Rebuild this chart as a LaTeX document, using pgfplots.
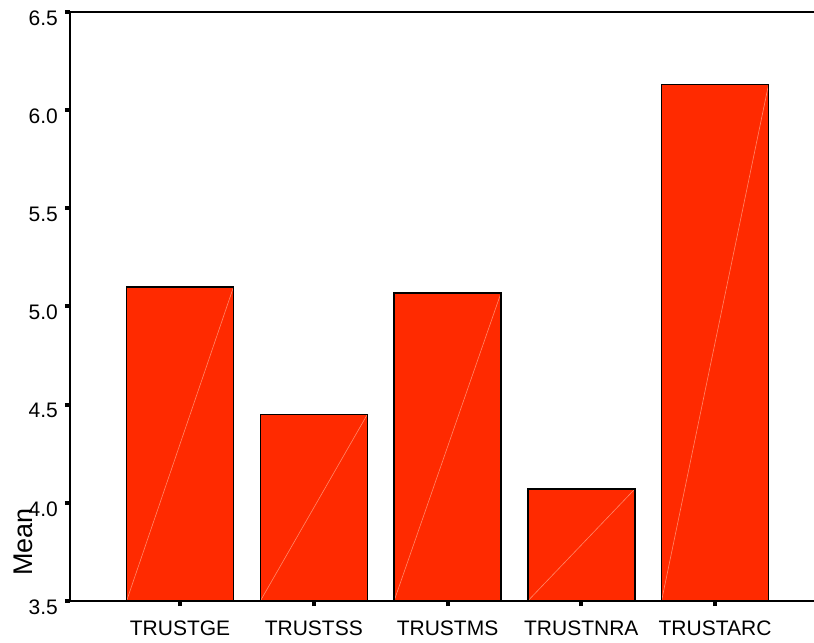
\documentclass[border=0pt]{standalone}
\usepackage{fontspec}
\setmainfont{Liberation Sans}
\usepackage{pgfplots}
\pgfplotsset{compat=1.18}
\definecolor{barred}{RGB}{255,42,0}
\definecolor{streak}{RGB}{255,135,105}

\begin{document}
\fontsize{21bp}{25bp}\selectfont
\begin{tikzpicture}
\begin{axis}[
  scale only axis,
  width=744bp, height=589bp,
  xmin=-0.823, xmax=4.74,
  ymin=3.5, ymax=6.5,
  axis x line*=bottom, axis y line*=left,
  axis line style={line width=2bp, -},
  ytick={3.5,4,4.5,5,5.5,6,6.5},
  yticklabel style={yshift=-6bp,
    /pgf/number format/fixed, /pgf/number format/fixed zerofill,
    /pgf/number format/precision=1, /pgf/number format/assume math mode=true},
  xtick={0,1,2,3,4},
  xticklabels={TRUSTGE,TRUSTSS,TRUSTMS,TRUSTNRA,TRUSTARC},
  xticklabel style={yshift=-8bp},
  tick align=outside,
  major tick length=5bp,
  tick style={line width=4bp, black},
  ylabel={Mean},
  ylabel style={at={(rel axis cs:-0.063,0.1)}, anchor=center,
    font=\fontsize{27bp}{32bp}\selectfont},
]
\addplot[ybar, bar width=0.8, fill=barred, draw=none]
  coordinates {(0,5.10) (1,4.45) (2,5.07) (3,4.07) (4,6.13)};
% faint diagonal streaks inside the bars
\addplot[streak, line width=0.6bp] coordinates {(-0.4,3.5) (0.4,5.10)};
\addplot[streak, line width=0.6bp] coordinates {(0.6,3.5) (1.4,4.45)};
\addplot[streak, line width=0.6bp] coordinates {(1.6,3.5) (2.4,5.07)};
\addplot[streak, line width=0.6bp] coordinates {(2.6,3.5) (3.4,4.07)};
\addplot[streak, line width=0.6bp] coordinates {(3.6,3.5) (4.4,6.13)};
\addplot[ybar, bar width=0.8, fill=none, draw=black, line width=1.6bp]
  coordinates {(0,5.10) (1,4.45) (2,5.07) (3,4.07) (4,6.13)};
\coordinate (bl) at (rel axis cs:0,0);
\coordinate (tr) at (rel axis cs:1,1);
\coordinate (tl) at (rel axis cs:0,1);
\end{axis}
\draw[line width=2bp] (tl) -- (tr);
\pgfresetboundingbox
\path[use as bounding box] ([shift={(-70bp,-42bp)}]bl) rectangle ([shift={(0bp,12bp)}]tr);
\end{tikzpicture}
\end{document}
